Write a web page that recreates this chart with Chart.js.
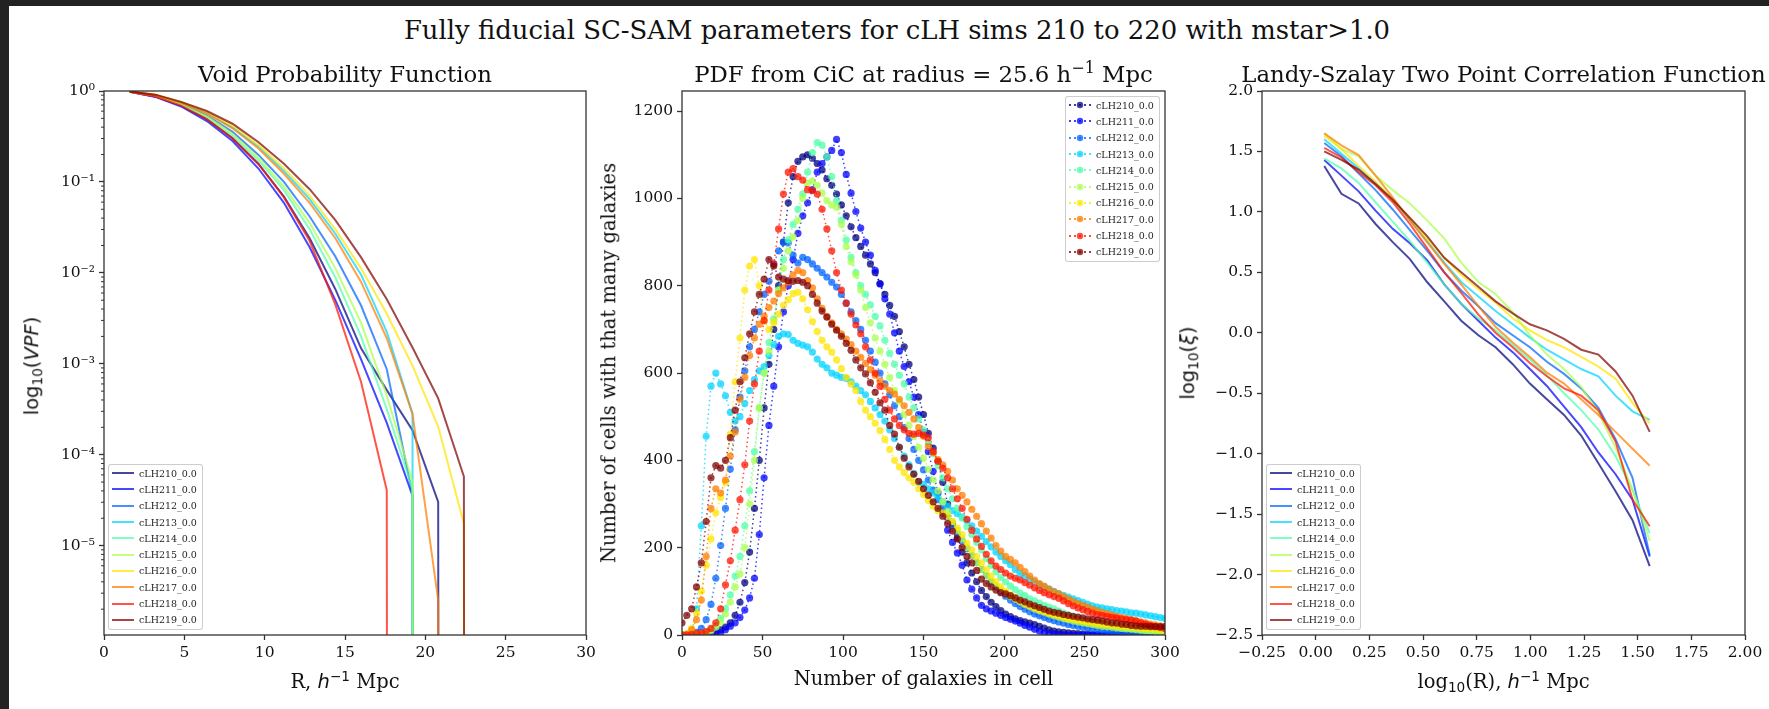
<!DOCTYPE html>
<html><head><meta charset="utf-8">
<script src="https://cdn.jsdelivr.net/npm/chart.js@4/dist/chart.umd.min.js"></script>
<style>
html,body{margin:0;padding:0;background:#fff;width:1769px;height:709px;overflow:hidden;font-family:"DejaVu Serif",serif;color:#111;}
#topbar{position:absolute;left:0;top:0;width:1769px;height:6px;background:#222;}
#leftbar{position:absolute;left:0;top:0;width:9px;height:709px;background:#222;}
canvas{position:absolute;}
.t{position:absolute;white-space:nowrap;transform:translate(-50%,-50%);line-height:1;}
.rot{transform:translate(-50%,-50%) rotate(-90deg);}
.sup{font-size:0.7em;position:relative;top:-0.55em;}
.sub{font-size:0.7em;position:relative;top:0.3em;}
.m{font-family:"DejaVu Sans",sans-serif;}
.legend{position:absolute;width:93px;height:164px;border:1px solid rgba(200,200,200,0.9);border-radius:3px;background:rgba(255,255,255,0.85);font-size:9.5px;color:#222;box-sizing:content-box;padding-top:0;}
.lrow{height:16.3px;display:flex;align-items:center;white-space:nowrap;}
.sw{display:inline-block;width:24px;height:8px;margin-left:2px;margin-right:4px;}
.sw svg{display:block;}
</style></head>
<body>
<div id="topbar"></div><div id="leftbar"></div>
<canvas id="c1"></canvas><canvas id="c2"></canvas><canvas id="c3"></canvas>

<div class="t" style="left:897px;top:31px;font-size:25.9px">Fully fiducial SC-SAM parameters for cLH sims 210 to 220 with mstar&gt;1.0</div>
<div class="t" style="left:345px;top:74px;font-size:22.8px">Void Probability Function</div>
<div class="t" style="left:923.5px;top:74px;font-size:22.8px">PDF from CiC at radius = 25.6 h<span class="sup">−1</span> Mpc</div>
<div class="t" style="left:1503.5px;top:74px;font-size:22.8px">Landy-Szalay Two Point Correlation Function</div>
<div class="t" style="left:345px;top:682px;font-size:19.5px">R, <span class="m"><i>h</i><span class="sup">−1</span></span> Mpc</div>
<div class="t" style="left:923.5px;top:679px;font-size:19.5px">Number of galaxies in cell</div>
<div class="t" style="left:1503.5px;top:682px;font-size:19.5px">log<span class="sub m">10</span>(R), <span class="m"><i>h</i><span class="sup">−1</span></span> Mpc</div>
<div class="t rot m" style="left:32px;top:366px;font-size:19.5px">log<span class="sub">10</span>(<i>VPF</i>)</div>
<div class="t rot" style="left:609px;top:363px;font-size:19.5px">Number of cells with that many galaxies</div>
<div class="t rot m" style="left:1188px;top:363px;font-size:19.5px">log<span class="sub">10</span>(<i>ξ</i>)</div>

<div class="legend" id="leg1" style="left:108px;top:464px;"></div>
<div class="legend" id="leg2" style="left:1065px;top:96px;"></div>
<div class="legend" id="leg3" style="left:1266px;top:464px;"></div>

<script>
// ---------------- DATA ----------------
const seriesNames = ['cLH210_0.0','cLH211_0.0','cLH212_0.0','cLH213_0.0','cLH214_0.0','cLH215_0.0','cLH216_0.0','cLH217_0.0','cLH218_0.0','cLH219_0.0'];
const seriesColors = [[0,0,128],[0,0,255],[0,99,255],[0,212,255],[77,255,170],[170,255,77],[255,229,0],[255,125,0],[255,20,0],[128,0,0]];

// Panel 1: Void probability function, R in h^-1 Mpc
const vpfR = [1.6,3.2,4.8,6.4,8.0,9.6,11.2,12.8,14.4,16.0,17.6,19.2,20.8,22.4,24.0];
const vpf210 = [0.9817,0.871,0.6918,0.4898,0.3020,0.1585,0.0692,0.0240,0.00661,0.00148,0.000513,0.000186,3.02e-5,0,0];
const vpf211 = [0.9795,0.861,0.6761,0.4677,0.2818,0.1413,0.0589,0.0191,0.00501,0.00112,0.000224,3.55e-5,0,0,0];
const vpf212 = [0.984,0.8913,0.7244,0.5370,0.3548,0.1995,0.1,0.0417,0.0151,0.00437,0.000871,3.63e-5,0,0,0];
const vpf213 = [0.9863,0.9016,0.7413,0.5754,0.3981,0.2455,0.1318,0.0646,0.0269,0.00955,0.00224,0.000282,0,0,0];
const vpf214 = [0.9817,0.881,0.7079,0.5129,0.3236,0.1738,0.0813,0.0302,0.00891,0.00200,0.000316,4.17e-5,0,0,0];
const vpf215 = [0.984,0.8913,0.7079,0.5248,0.3388,0.1862,0.0891,0.0355,0.0112,0.00282,0.000447,5.01e-5,0,0,0];
const vpf216 = [0.9886,0.912,0.7586,0.5888,0.4169,0.2570,0.1413,0.0708,0.0302,0.0112,0.00355,0.000955,0.000204,1.74e-5,0];
const vpf217 = [0.9863,0.9016,0.7413,0.5623,0.3890,0.2344,0.1230,0.0589,0.0240,0.00794,0.00191,0.000282,2.51e-6,0,0];
const vpf218 = [0.9817,0.871,0.6918,0.4898,0.3020,0.1585,0.0676,0.0224,0.00447,0.000631,4.07e-5,0,0,0,0];
const vpf219 = [0.9886,0.912,0.7586,0.6026,0.4365,0.2754,0.1585,0.0832,0.0380,0.0148,0.00513,0.00151,0.000417,5.75e-5,0];

// Panel 2: counts-in-cells PDF
const cicN = [0,3,6,9,12,15,18,21,24,27,30,33,36,39,42,45,48,51,54,57,60,63,66,69,72,75,78,81,84,87,90,93,96,99,102,105,108,111,114,117,120,123,126,129,132,135,138,141,144,147,150,153,156,159,162,165,168,171,174,177,180,183,186,189,192,195,198,201,204,207,210,213,216,219,222,225,228,231,234,237,240,243,246,249,252,255,258,261,264,267,270,273,276,279,282,285,288,291,294,297,300];
const cic210 = [0,0,0,1,2,3,5,8,12,18, 28,45,75,120,190,290,400,520,620,700, 800,900,990,1050,1085,1095,1100,1092,1080,1065, 1045,1030,1010,985,960,935,910,890,870,850, 830,805,780,755,730,695,660,620,585,545, 505,462,428,398,350,300,255,222,190,165, 142,122,102,88,75,65,56,48,42,37, 33,30,27,24,20,16,12,9,7,6, 5,4,3,2,2,1,1,0,0,0, 0,0,0,0,0,0,0,0,0,0, 0];
const cic211 = [0,0,0,0,0,0,0,2,5,12, 20,28,40,57,85,130,230,360,480,570, 660,740,800,860,920,960,990,1020,1060,1080, 1095,1110,1135,1105,1055,1012,970,932,900,870, 835,804,770,735,692,650,615,580,545,505, 465,420,375,325,280,240,212,188,160,126, 105,85,68,60,55,50,45,40,36,32, 27,22,18,13,9,5,3,2,1,0, 0,0,0,0,0,0,0,0,0,0, 0,0,0,0,0,0,0,0,0,0, 0];
const cic212 = [0,0,2,6,15,35,70,130,205,290, 380,470,545,605,660,700,740,780,810,850, 880,900,898,870,852,865,860,850,840,830, 820,808,797,780,760,740,720,700,675,650, 625,600,575,550,525,500,475,450,425,400, 378,355,332,310,290,270,250,232,215,198, 182,166,150,136,122,110,99,89,80,72, 65,59,53,48,44,40,36,33,30,27, 24,22,20,18,16,15,13,12,11,10, 9,8,7,6,5,5,4,4,3,3, 3];
const cic213 = [0,0,3,60,250,455,570,600,575,548, 510,490,500,530,560,585,605,615,640,665, 684,690,688,675,668,664,660,648,632,620, 612,600,595,590,588,580,570,560,550,535, 520,505,490,470,450,430,410,390,370,350, 345,335,325,315,305,295,285,278,270,262, 250,238,226,214,202,190,180,170,161,150, 141,135,128,122,116,110,105,100,95,91, 87,83,79,75,71,67,64,62,60,58, 56,55,53,51,50,48,46,44,42,40, 38];
const cic214 = [0,0,0,1,3,6,12,22,38,60, 92,135,180,250,330,420,520,600,670,724, 790,860,905,940,975,1010,1060,1105,1128,1122, 1095,1050,995,950,905,865,830,800,780,756, 730,708,675,645,620,595,575,545,520,495, 470,440,415,388,360,335,312,290,268,248, 230,212,195,175,160,145,132,122,112,104, 96,90,83,78,73,68,64,60,55,50, 46,42,39,36,33,30,28,26,24,22, 20,18,16,15,14,12,11,10,9,8, 8];
const cic215 = [0,0,0,1,2,5,10,18,30,48, 75,110,140,200,300,400,520,600,650,720, 790,840,880,912,950,1000,1035,1040,1030,1012, 995,985,980,940,890,855,825,790,750,715, 680,650,620,590,560,535,505,480,455,430, 405,380,355,330,305,282,260,240,220,200, 182,165,150,136,124,114,104,96,88,82, 76,70,65,60,56,52,48,44,41,38, 35,32,30,28,26,24,22,20,19,18, 16,15,14,13,12,11,10,9,8,8, 7];
const cic216 = [0,2,15,50,100,160,220,280,315,350, 460,580,680,790,845,860,800,720,700,715, 735,755,768,782,785,770,745,718,695,675, 660,648,630,610,590,575,560,535,515,500, 485,468,448,425,400,385,372,360,350,335, 322,308,295,285,280,272,260,245,230,210, 195,180,165,150,135,122,110,100,92,85, 78,72,67,62,58,54,50,47,44,41, 38,36,34,32,30,28,26,25,24,22, 21,20,19,18,17,16,15,14,13,12, 12];
const cic217 = [0,2,12,35,80,180,290,335,325,355, 410,465,540,590,640,680,712,730,750,765, 782,795,808,825,835,830,812,795,770,748, 730,715,700,690,678,665,650,636,622,608, 595,582,570,560,552,540,525,510,495,475, 455,432,418,402,390,375,355,335,320,305, 288,272,255,238,222,205,192,180,173,165, 155,145,135,126,118,112,105,99,94,88, 82,77,72,68,64,59,56,52,49,46, 43,40,38,35,33,30,28,25,23,21, 19];
const cic218 = [0,0,1,3,5,8,15,28,60,115, 170,240,310,390,490,575,650,720,790,850, 930,1010,1060,1068,1050,1042,1020,1018,1010,975, 930,880,830,790,760,735,710,690,660,630, 600,570,540,515,495,480,470,462,460,462, 458,452,420,398,382,360,335,312,290,265, 240,220,203,185,170,158,150,142,135,130, 126,120,114,108,102,97,92,88,84,78, 72,67,62,58,54,50,47,45,43,41, 39,37,35,34,32,28,25,22,20,17, 15];
const cic219 = [28,45,60,110,165,260,360,388,382,400, 452,515,580,635,690,740,780,815,860,845, 820,815,812,810,812,808,800,780,760,742, 728,712,698,684,668,652,630,612,598,578, 556,532,515,480,460,430,405,385,368,352, 335,320,305,290,272,255,238,220,200,180, 165,148,128,118,110,103,97,94,90,85, 80,76,71,67,63,59,55,52,50,47, 45,43,41,39,37,35,34,32,30,28, 27,25,24,22,21,20,20,19,19,19, 19];

// Panel 3: Landy-Szalay 2PCF, log10(R) vs log10(xi)
const tpcfLogR = [0.040,0.120,0.200,0.279,0.359,0.439,0.519,0.599,0.678,0.758,0.838,0.918,0.998,1.077,1.157,1.237,1.317,1.397,1.476,1.556];
const xi210 = [1.38,1.15,1.07,0.90,0.75,0.61,0.42,0.26,0.10,-0.02,-0.12,-0.26,-0.42,-0.55,-0.68,-0.85,-1.08,-1.31,-1.55,-1.93];
const xi211 = [1.43,1.30,1.17,1.01,0.86,0.74,0.60,0.40,0.24,0.10,-0.04,-0.16,-0.30,-0.44,-0.61,-0.78,-0.99,-1.17,-1.38,-1.85];
const xi212 = [1.57,1.46,1.32,1.18,1.02,0.85,0.68,0.50,0.35,0.22,0.08,-0.02,-0.12,-0.24,-0.34,-0.46,-0.62,-0.88,-1.20,-1.84];
const xi213 = [1.60,1.48,1.36,1.24,1.10,0.93,0.76,0.58,0.42,0.30,0.18,0.07,-0.04,-0.14,-0.22,-0.30,-0.36,-0.52,-0.65,-0.72];
const xi214 = [1.44,1.36,1.24,1.08,0.92,0.76,0.58,0.40,0.24,0.12,0.02,-0.10,-0.22,-0.35,-0.50,-0.64,-0.80,-1.02,-1.30,-1.66];
const xi215 = [1.65,1.52,1.46,1.30,1.18,1.07,0.93,0.78,0.58,0.42,0.32,0.17,-0.02,-0.18,-0.30,-0.45,-0.66,-0.95,-1.30,-1.72];
const xi216 = [1.63,1.52,1.38,1.25,1.10,0.95,0.78,0.62,0.48,0.36,0.25,0.12,0.02,-0.06,-0.12,-0.20,-0.28,-0.38,-0.58,-0.75];
const xi217 = [1.65,1.55,1.47,1.30,1.12,0.93,0.75,0.57,0.40,0.22,0.05,-0.08,-0.20,-0.33,-0.42,-0.55,-0.68,-0.82,-0.96,-1.10];
const xi218 = [1.53,1.45,1.33,1.22,1.08,0.90,0.70,0.50,0.33,0.15,0.00,-0.12,-0.25,-0.36,-0.46,-0.52,-0.64,-0.90,-1.38,-1.60];
const xi219 = [1.50,1.43,1.35,1.23,1.10,0.95,0.80,0.62,0.50,0.38,0.26,0.16,0.07,0.02,-0.05,-0.14,-0.18,-0.32,-0.52,-0.82];

// Tick values / labels
const vpfXTicks = [0,5,10,15,20,25,30];
const vpfXLabels = ['0','5','10','15','20','25','30'];
const vpfYTicks = [1e-5,1e-4,1e-3,1e-2,1e-1,1];
const vpfYLabels = ['10⁻⁵','10⁻⁴','10⁻³','10⁻²','10⁻¹','10⁰'];
const cicXTicks = [0,50,100,150,200,250,300];
const cicXLabels = ['0','50','100','150','200','250','300'];
const cicYTicks = [0,200,400,600,800,1000,1200];
const cicYLabels = ['0','200','400','600','800','1000','1200'];
const tpcfXTicks = [-0.25,0,0.25,0.5,0.75,1.0,1.25,1.5,1.75,2.0];
const tpcfXLabels = ['−0.25','0.00','0.25','0.50','0.75','1.00','1.25','1.50','1.75','2.00'];
const tpcfYTicks = [-2.5,-2.0,-1.5,-1.0,-0.5,0.0,0.5,1.0,1.5,2.0];
const tpcfYLabels = ['−2.5','−2.0','−1.5','−1.0','−0.5','0.0','0.5','1.0','1.5','2.0'];

// ---------------- LAYOUT ----------------
const PLOT_TOP = 91, PLOT_H = 544;
const PAD_L = 80, PAD_T = 14, PAD_R = 26, PAD_B = 50;
const rects = [{left:104,width:482},{left:682,width:483},{left:1262,width:483}];

Chart.defaults.font.family = 'DejaVu Serif';
Chart.defaults.animation = false;

function rgba(c,a){return `rgba(${c[0]},${c[1]},${c[2]},${a})`;}

function setupCanvas(id, r){
  const c = document.getElementById(id);
  const w = r.width + PAD_L + PAD_R, h = PLOT_H + PAD_T + PAD_B;
  c.width = w; c.height = h;
  c.style.left = (r.left - PAD_L) + 'px';
  c.style.top = (PLOT_TOP - PAD_T) + 'px';
  c.style.width = w + 'px'; c.style.height = h + 'px';
  return c;
}

const framePlugin = {
  id:'frame',
  afterDraw(chart){
    const {ctx, chartArea:a} = chart;
    ctx.save(); ctx.strokeStyle = '#333'; ctx.lineWidth = 1.3;
    ctx.strokeRect(a.left, a.top, a.right - a.left, a.bottom - a.top);
    ctx.restore();
  }
};
const minorTickPlugin = {
  id:'minorTicks',
  afterDraw(chart, args, opts){
    if(!opts || !opts.values) return;
    const s = chart.scales.y, ctx = chart.ctx, a = chart.chartArea;
    ctx.save(); ctx.strokeStyle = '#333'; ctx.lineWidth = 1;
    ctx.beginPath();
    opts.values.forEach(v => {
      const y = s.getPixelForValue(v);
      if (y < a.top - 0.5 || y > a.bottom + 0.5) return;
      ctx.moveTo(a.left, y); ctx.lineTo(a.left - 3, y);
    });
    ctx.stroke(); ctx.restore();
  }
};

function axis(type, min, max, ticks, labels, isX){
  return {
    type, min, max,
    afterFit: s => { if (isX) s.height = PAD_B; else s.width = PAD_L; },
    afterBuildTicks: s => { s.ticks = ticks.map(v => ({value:v})); },
    grid: {display:true, drawOnChartArea:false, drawTicks:true, tickLength:5, tickWidth:1.3, tickColor:'#333'},
    border: {display:false},
    ticks: {font:{family:'DejaVu Serif', size:15.5}, color:'#111', padding:4, maxRotation:0, minRotation:0, autoSkip:false,
            callback: (v, i) => labels[i]}
  };
}

function baseOptions(xAxis, yAxis, extraPlugins){
  return {
    responsive:false, animation:false, events:[],
    layout:{padding:{left:0, top:PAD_T, right:PAD_R, bottom:0}},
    plugins:Object.assign({legend:{display:false}, tooltip:{enabled:false}}, extraPlugins||{}),
    scales:{x:xAxis, y:yAxis}
  };
}

// ---- Panel 1 ----
const vpfSeries = [vpf210,vpf211,vpf212,vpf213,vpf214,vpf215,vpf216,vpf217,vpf218,vpf219];
const minorVals = [];
[1e-6,1e-5,1e-4,1e-3,1e-2,1e-1].forEach(d => { for (let m = 2; m <= 9; m++) minorVals.push(m*d); });
const chart1 = new Chart(setupCanvas('c1', rects[0]), {
  type:'line',
  data:{datasets: vpfSeries.map((vals, i) => ({
    label: seriesNames[i],
    // non-positive values are clipped far below the axis (as log plots do)
    data: vpfR.map((r, j) => ({x:r, y: vals[j] > 0 ? vals[j] : 1e-300})),
    borderColor: rgba(seriesColors[i], 0.72), borderWidth:2, pointRadius:0, tension:0, fill:false, order: 9 - i
  }))},
  options: baseOptions(axis('linear',0,30,vpfXTicks,vpfXLabels,true), axis('logarithmic',1.04e-6,1,vpfYTicks,vpfYLabels,false), {minorTicks:{values:minorVals}}),
  plugins:[framePlugin, minorTickPlugin]
});

// ---- Panel 2 ----
const cicSeries = [cic210,cic211,cic212,cic213,cic214,cic215,cic216,cic217,cic218,cic219];
const chart2 = new Chart(setupCanvas('c2', rects[1]), {
  type:'line',
  data:{datasets: cicSeries.map((vals, i) => ({
    label: seriesNames[i],
    data: cicN.map((n, j) => ({x:n, y:vals[j]})),
    showLine:true, borderColor: rgba(seriesColors[i], 0.75), borderWidth:1.5, borderDash:[1.5,3],
    pointRadius:3.6, pointBorderWidth:0, pointBackgroundColor: rgba(seriesColors[i], 0.75), tension:0, fill:false, order: 9 - i
  }))},
  options: baseOptions(axis('linear',0,300,cicXTicks,cicXLabels,true), axis('linear',0,1246,cicYTicks,cicYLabels,false)),
  plugins:[framePlugin]
});

// ---- Panel 3 ----
const xiSeries = [xi210,xi211,xi212,xi213,xi214,xi215,xi216,xi217,xi218,xi219];
const chart3 = new Chart(setupCanvas('c3', rects[2]), {
  type:'line',
  data:{datasets: xiSeries.map((vals, i) => ({
    label: seriesNames[i],
    data: tpcfLogR.map((x, j) => ({x, y:vals[j]})),
    borderColor: rgba(seriesColors[i], 0.72), borderWidth:2, pointRadius:0, tension:0, fill:false, order: 9 - i
  }))},
  options: baseOptions(axis('linear',-0.25,2.0,tpcfXTicks,tpcfXLabels,true), axis('linear',-2.5,2.0,tpcfYTicks,tpcfYLabels,false)),
  plugins:[framePlugin]
});

// ---- Legends (built from the chart datasets) ----
function buildLegend(id, chart, kind){
  const box = document.getElementById(id);
  chart.data.datasets.forEach(ds => {
    const row = document.createElement('div'); row.className = 'lrow';
    const sw = document.createElement('span'); sw.className = 'sw';
    if (kind === 'line') {
      sw.innerHTML = `<svg width="24" height="8"><line x1="1" y1="4" x2="23" y2="4" stroke="${ds.borderColor}" stroke-width="2"/></svg>`;
    } else {
      sw.innerHTML = `<svg width="24" height="8"><line x1="1" y1="4" x2="23" y2="4" stroke="${ds.borderColor}" stroke-width="2" stroke-dasharray="2,3"/><circle cx="12" cy="4" r="3.2" fill="${ds.pointBackgroundColor}"/></svg>`;
    }
    const tx = document.createElement('span'); tx.textContent = ds.label;
    row.append(sw, tx); box.append(row);
  });
}
buildLegend('leg1', chart1, 'line');
buildLegend('leg2', chart2, 'marker');
buildLegend('leg3', chart3, 'line');
</script>
</body></html>
